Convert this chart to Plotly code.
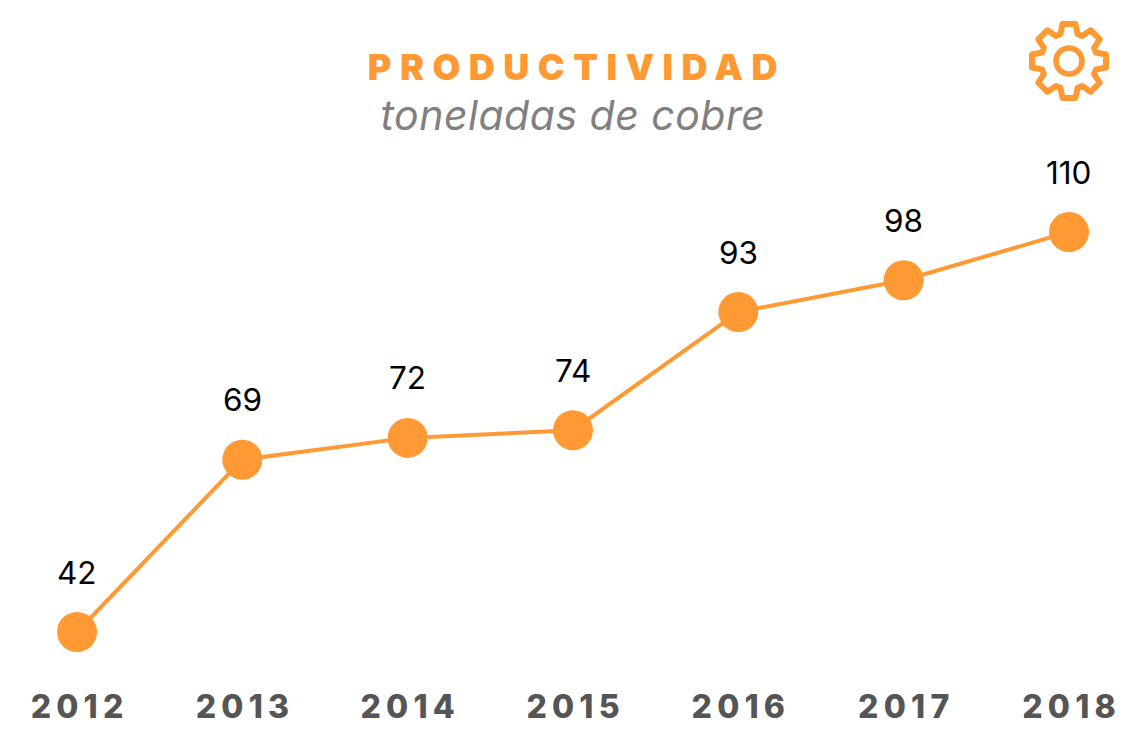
import math
import plotly.graph_objects as go

years = [2012, 2013, 2014, 2015, 2016, 2017, 2018]
# Vertical positions (pixel heights expressed on a scale where 42 and 110 fit)
plotted = [42, 71.3, 75.0, 76.3, 96.4, 101.8, 110]
labels = ["42", "69", "72", "74", "93", "98", "110"]
title = "PRODUCTIVIDAD"
subtitle = "toneladas de cobre"

W, H, BOTTOM = 1127, 735, 50
ORANGE = "#FF9933"
PH = H - BOTTOM


def fx(px):
    return px / W


def fy(py):
    return 1 - py / PH


# Gear icon (decoration)
cx, cy = 1069, 61
tooth = [(27, -8.5), (37, -6.5), (37, 6.5), (27, 8.5)]
pts = []
for i in range(8):
    a = i * math.pi / 4 - math.pi / 2
    for r, t in tooth:
        pts.append((cx + r * math.cos(a) - t * math.sin(a), cy + r * math.sin(a) + t * math.cos(a)))
gear = "M" + " L".join(f"{fx(x):.5f},{fy(y):.5f}" for x, y in pts) + " Z"

fig = go.Figure()
fig.add_trace(go.Scatter(
    x=years, y=plotted, mode="lines+markers",
    line=dict(color=ORANGE, width=4),
    marker=dict(color=ORANGE, size=40),
    hoverinfo="skip", showlegend=False,
))
for x, y, t in zip(years, plotted, labels):
    fig.add_annotation(x=x, y=y, text=t, showarrow=False, yshift=60,
                       font=dict(family="Inter", size=31.5, color="#000000"))
fig.add_annotation(xref="paper", yref="paper", x=fx(577), y=fy(67), yanchor="middle", text=title, showarrow=False,
                   font=dict(family="Inter", size=36, color=ORANGE, weight=900))
fig.add_annotation(xref="paper", yref="paper", x=fx(573), y=fy(115), yanchor="middle", text=subtitle, showarrow=False,
                   font=dict(family="Inter", size=41, color="#808080", style="italic"))
fig.add_shape(type="path", xref="paper", yref="paper", path=gear, line=dict(color=ORANGE, width=6))
fig.add_shape(type="circle", xref="paper", yref="paper",
              x0=fx(cx - 13), x1=fx(cx + 13), y0=fy(cy + 13), y1=fy(cy - 13),
              line=dict(color=ORANGE, width=5.5))

fig.update_layout(
    width=W, height=H, margin=dict(l=0, r=0, t=0, b=BOTTOM),
    paper_bgcolor="white", plot_bgcolor="white",
    xaxis=dict(range=[2012 - 77 / 165.33, 2012 + (W - 77) / 165.33], tickmode="array", tickvals=years,
               ticktext=[str(y) for y in years], showgrid=False, zeroline=False, showline=False,
               automargin=False, ticks="", ticklabelstandoff=0,
               tickfont=dict(family="Inter", size=32, color="#555555", weight=800)),
    yaxis=dict(range=[42 - 53 / 5.882, 42 + 632 / 5.882], visible=False, automargin=False),
)

post = """
document.body.style.margin = '0';
document.querySelectorAll('.xtick text').forEach(function (t) {
  t.style.letterSpacing = '5.2px'; t.setAttribute('dx', '2.6');
});
document.querySelectorAll('.annotation-text').forEach(function (t) {
  if (t.textContent === 'PRODUCTIVIDAD') { t.style.letterSpacing = '8.5px'; }
  if (t.textContent === 'toneladas de cobre') { t.style.letterSpacing = '0.5px'; }
});
document.querySelectorAll('.shapelayer path').forEach(function (p) { p.style.strokeLinejoin = 'round'; });
"""
fig.write_html("out.html", post_script=post, config={"displayModeBar": False})
